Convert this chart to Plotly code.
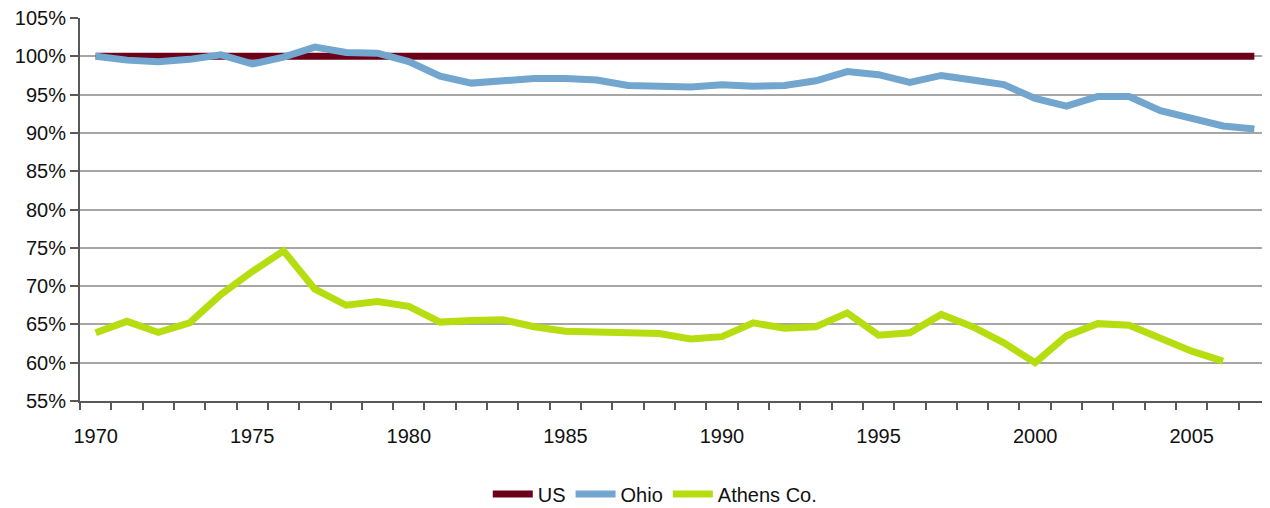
import plotly.graph_objects as go

years = list(range(1970, 2008))
us = [100.0] * 38
ohio = [100.0, 99.5, 99.3, 99.6, 100.2, 99.0, 99.9, 101.2, 100.5, 100.4,
        99.3, 97.4, 96.5, 96.8, 97.1, 97.1, 96.9, 96.2, 96.1, 96.0,
        96.3, 96.1, 96.2, 96.8, 98.0, 97.6, 96.6, 97.5, 96.9, 96.3,
        94.5, 93.5, 94.75, 94.75, 92.9, 91.9, 90.9, 90.5]
athens_years = list(range(1970, 2007))
athens = [63.9, 65.4, 63.95, 65.2, 68.9, 71.9, 74.6, 69.6, 67.5, 68.0,
          67.35, 65.3, 65.5, 65.6, 64.7, 64.1, 64.0, 64.0, 63.8, 63.1,
          63.4, 65.2, 64.5, 64.7, 66.5, 63.6, 63.9, 66.3, 64.7, 62.6,
          60.0, 63.5, 65.1, 64.9, 63.1, 61.5, 60.2]
y_ticks = list(range(55, 106, 5))
x_label_years = list(range(1970, 2006, 5))

font_family = "Liberation Sans, Arial, sans-serif"

fig = go.Figure()
fig.add_trace(go.Scatter(x=years, y=us, name="US", mode="lines",
                         line=dict(color="#6b0018", width=7)))
fig.add_trace(go.Scatter(x=years, y=ohio, name="Ohio", mode="lines",
                         line=dict(color="#72a6cf", width=7)))
fig.add_trace(go.Scatter(x=athens_years, y=athens, name="Athens Co.", mode="lines",
                         line=dict(color="#b6dd10", width=7)))

fig.update_layout(
    width=1262, height=500,
    margin=dict(l=72, r=0, t=10, b=107, autoexpand=False),
    paper_bgcolor="white", plot_bgcolor="white",
    font=dict(family=font_family, size=20, color="#111111"),
    showlegend=True,
    legend=dict(orientation="h", x=0.483, xanchor="center", y=-0.243, yanchor="middle",
                font=dict(size=20, color="#111111"), itemwidth=40,
                tracegroupgap=0, bgcolor="rgba(0,0,0,0)"),
)
fig.update_xaxes(
    range=[1969.5, 2007.5], showgrid=False, zeroline=False, automargin=False,
    showline=True, linecolor="#595959", linewidth=2, ticklabeloverflow="allow",
    tickmode="array", tickvals=x_label_years, ticktext=[str(v) for v in x_label_years],
    ticks="outside", ticklen=16, tickcolor="rgba(0,0,0,0)",
    minor=dict(tickmode="array", tickvals=[y - 0.5 for y in range(1970, 2009)],
               ticks="outside", ticklen=7, tickcolor="#595959", tickwidth=2, showgrid=False),
)
fig.update_yaxes(
    range=[55, 105], tickmode="array", tickvals=y_ticks, automargin=False,
    ticktext=[f"{v}%" for v in y_ticks], ticklabeloverflow="allow",
    showgrid=True, gridcolor="#a6a6a6", gridwidth=2, zeroline=False,
    showline=True, linecolor="#595959", linewidth=2,
    ticks="outside", ticklen=8, tickcolor="#595959", tickwidth=2,
)

fig.write_html("out.html")
